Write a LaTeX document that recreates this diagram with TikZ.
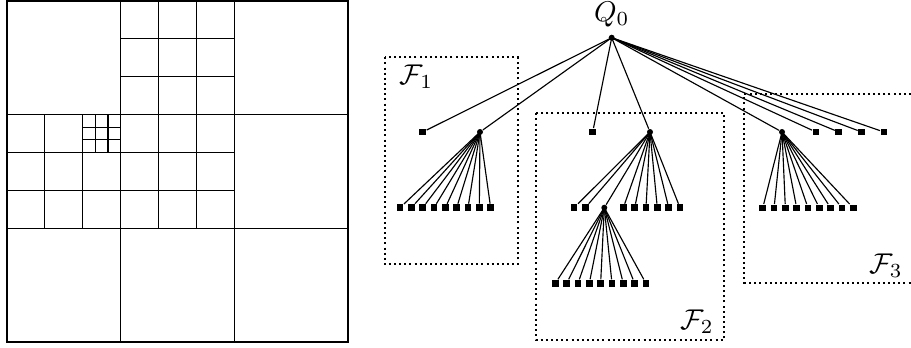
\documentclass[tikz,border=0pt]{standalone}
\usetikzlibrary{positioning}
\begin{document}
\begin{tikzpicture}[x=0.35pt,y=-0.35pt,
	leaf/.style={fill,inner sep=0pt,minimum size=2.4pt},
	inner/.style={circle,fill,inner sep=0pt,minimum size=2.1pt},
	family/.style={line width=0.75pt,dash pattern=on 0.7pt off 1.1pt}]
	\useasboundingbox (0,0) rectangle (911,347);
	
	% Draw the subdivided square
	\begin{scope}[shift={(7,1)},x=13.26pt,y=-13.26pt]
		\draw[line width=0.7pt] (0,0) rectangle (9,9);
		\foreach \t in {3,6} {
			\draw (\t,0) -- (\t,9);
			\draw (0,\t) -- (9,\t);
		}
		% Second level
		\foreach \t in {4,5} {
			\draw (\t,0) -- (\t,6);
			\draw (0,\t) -- (6,\t);
		}
		\foreach \t in {1,2} {
			\draw (\t,3) -- (\t,6);
			\draw (3,\t) -- (6,\t);
		}
		% Third level
		\foreach \t in {1/3,2/3} {
			\draw (2+\t,3) -- (2+\t,4);
			\draw (2,3+\t) -- (3,3+\t);
		}
	\end{scope}
	
	% Draw the root
	\node[inner] (q0) at (611.7,37.7) {};
	\node[anchor=base,inner sep=0pt] (q0lbl) at (611.7,21) {$Q_0$};
	
	% Children of the root
	\node[leaf] (c1) at (422.7,132) {};
	\node[inner] (c2) at (480,132) {};
	\node[leaf] (c3) at (592.7,132) {};
	\node[inner] (c4) at (650,132) {};
	\node[inner] (c5) at (782,132) {};
	\foreach \x [count=\i from 6] in {816,838.7,861.7,884}
		\node[leaf] (c\i) at (\x,132) {};
	\foreach \i in {1,...,9}
		\draw (q0.center) -- (c\i);
	
	% Leaves below the first family
	\foreach \i in {1,...,9} {
		\node[leaf] (a\i) at ({400+11.33*(\i-1)},207.7) {};
		\draw (c2.center) -- (a\i);
	}
	
	% Second family
	\node[inner] (b3) at (604.3,207.7) {};
	\foreach \x/\i in {574/1,585.3/2,623.3/4,634.7/5,646/6,657.3/7,668.7/8,680/9}
		\node[leaf] (b\i) at (\x,207.7) {};
	\foreach \i in {1,...,9}
		\draw (c4.center) -- (b\i);
	\foreach \i in {1,...,9} {
		\node[leaf] (e\i) at ({555.3+11.33*(\i-1)},283.3) {};
		\draw (b3.center) -- (e\i);
	}
	
	% Third family
	\foreach \i in {1,...,9} {
		\node[leaf] (g\i) at ({762.7+11.33*(\i-1)},208) {};
		\draw (c5.center) -- (g\i);
	}
	
	% Dotted frames round the families
	\draw[family] (385,57.3) rectangle (517.7,264.3);
	\draw[family] (536,113.3) rectangle (724.3,340);
	\draw[family] (911,94.3) -- (744.3,94.3) -- (744.3,282.7) -- (911,282.7);
	
	% Label the families
	\node (fone) at (416.5,77) {$\mathcal{F}_1$};
	\node (ftwo) at (697,322) {$\mathcal{F}_2$};
	\node (fthree) at (886,266) {$\mathcal{F}_3$};
\end{tikzpicture}
\end{document}
